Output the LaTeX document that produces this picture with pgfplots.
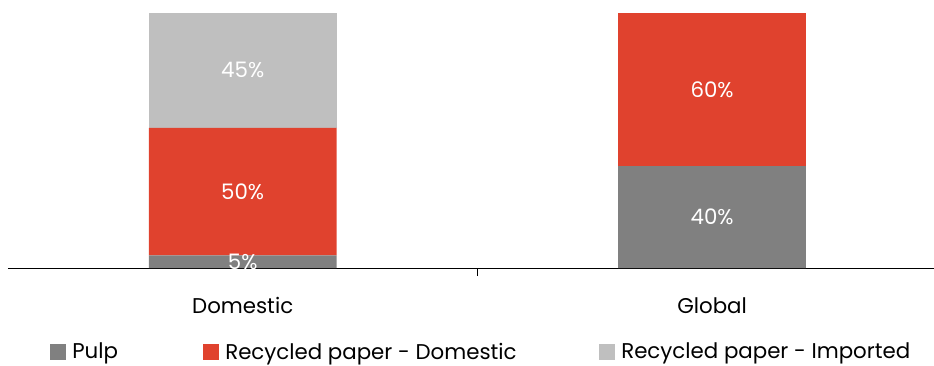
\documentclass[border=0pt]{standalone}
\usepackage{pgfplots}
\pgfplotsset{compat=1.18}
\usepackage{fontspec}
\setmainfont{Poppins}
\definecolor{pulp}{RGB}{128,128,128}
\definecolor{recdom}{RGB}{224,66,46}
\definecolor{recimp}{RGB}{191,191,191}
\pgfplotsset{
  base/.style={
    at={(6pt,72.75pt)}, anchor=south west,
    scale only axis,
    width=694.5pt, height=191.25pt,
    xmin=-0.5, xmax=1.4728,
    ymin=0, ymax=100,
  }
}
\begin{document}
\begin{tikzpicture}
\useasboundingbox (0,0) rectangle (700.5pt,273.75pt);
\clip (0,0) rectangle (700.5pt,273.75pt);
% stacked bars
\begin{axis}[
  base,
  ybar stacked, bar width=0.4,
  axis x line=bottom, axis y line=none,
  axis line style={black, thin, -},
  xtick={0,1}, xticklabels={Domestic, Global},
  major tick length=0pt,
  extra x ticks={0.5}, extra x tick labels={},
  extra x tick style={major tick length=6pt, xtick align=outside, tick style={black, thin}},
  xticklabel style={font=\fontsize{16}{19}\selectfont, anchor=base, yshift=-33.75pt},
  legend columns=3,
  legend style={draw=none, fill=none, inner sep=0pt, at={(0.0454,-0.329)}, anchor=west,
    font=\fontsize{16}{19}\selectfont,
    nodes={inner xsep=0pt},
    /tikz/every odd column/.append style={column sep=5pt},
    /tikz/every even column/.append style={column sep=0pt}},
  legend image code/.code={\fill (0pt,-5.8pt) rectangle (11.5pt,5.8pt);},
]
\addplot[fill=pulp, draw=none] coordinates {(0,5) (1,40)};
\addlegendentry{\makebox[98.25pt][l]{Pulp}}
\addplot[fill=recdom, draw=none] coordinates {(0,50) (1,60)};
\addlegendentry{\makebox[280.5pt][l]{Recycled paper - Domestic}}
\addplot[fill=recimp, draw=none] coordinates {(0,45)};
\addlegendentry{Recycled paper - Imported}
\end{axis}
% value labels at the middle of each segment
\begin{axis}[
  base,
  axis lines=none,
  point meta=explicit symbolic,
  nodes near coords,
  every node near coord/.append style={font=\fontsize{16}{19}\selectfont, text=white, anchor=center},
]
\addplot[draw=none, mark=none, nodes near coords] coordinates {
  (0,2.5) [5\%]
  (0,30) [50\%]
  (0,77.5) [45\%]
  (1,20) [40\%]
  (1,70) [60\%]
};
\end{axis}
\end{tikzpicture}
\end{document}
